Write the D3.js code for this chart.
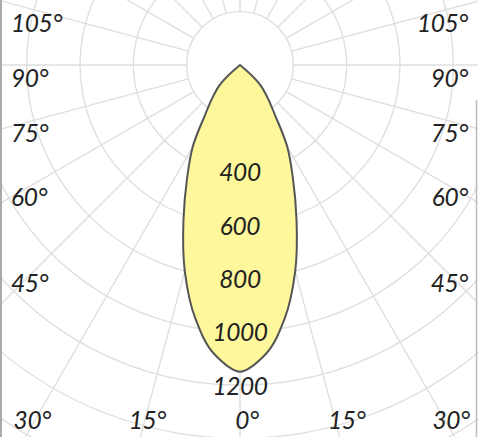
<!DOCTYPE html>
<html>
<head>
<meta charset="utf-8">
<script src="https://cdn.jsdelivr.net/npm/d3@7"></script>
<style>
  body { margin: 0; background: #fff; }
  text { font-family: Lato, 'Open Sans', sans-serif; font-style: italic; fill: #222; letter-spacing: -0.4px; }
</style>
</head>
<body>
<script>
// luminous intensity (cd) per angle from nadir, one half of a symmetric beam
var angles = [0, 5, 10, 15, 20, 25, 30, 35, 40, 45, 50];
var intensity = [1150, 1090, 965, 800, 620, 470, 355, 228, 162, 112, 0];

var ringValues = [200, 400, 600, 800, 1000, 1200, 1400, 1600, 1800];
var ringLabels = [400, 600, 800, 1000, 1200];
var sideAngles = [105, 90, 75, 60, 45];
var bottomAngles = [-30, -15, 0, 15, 30];

var w = 478;
var h = 437;
var cx = 240;
var cy = 65;
var rad = Math.PI / 180;

var svg = d3.select('body')
            .append('svg')
            .attr('width', w)
            .attr('height', h);

var rScale = d3.scaleLinear()
               .domain([0, 1200])
               .range([0, 320]);

var g = svg.append('g')
           .attr('transform', 'translate(' + cx + ',' + cy + ')');

// rays every 15 degrees, starting on the first ring
var rays = d3.range(0, 360, 15);
g.selectAll('line.ray')
 .data(rays)
 .enter()
 .append('line')
 .attr('class', 'ray')
 .attr('x1', function(d) { return rScale(200) * Math.sin(d * rad); })
 .attr('y1', function(d) { return rScale(200) * Math.cos(d * rad); })
 .attr('x2', function(d) { return 600 * Math.sin(d * rad); })
 .attr('y2', function(d) { return 600 * Math.cos(d * rad); })
 .attr('stroke', '#dedede')
 .attr('stroke-width', 1.3);

g.selectAll('circle.ring')
 .data(ringValues)
 .enter()
 .append('circle')
 .attr('class', 'ring')
 .attr('r', function(d) { return rScale(d); })
 .attr('fill', 'none')
 .attr('stroke', '#dedede')
 .attr('stroke-width', 1.3);

// beam outline: mirror the half curve
var pts = [];
for (var i = angles.length - 1; i > 0; i--) {
    pts.push([-angles[i], intensity[i]]);
}
for (var j = 0; j < angles.length; j++) {
    pts.push([angles[j], intensity[j]]);
}

var beam = d3.lineRadial()
             .angle(function(d) { return Math.PI - d[0] * rad; })
             .radius(function(d) { return rScale(d[1]); })
             .curve(d3.curveCatmullRom.alpha(1));

g.append('path')
 .datum(pts)
 .attr('d', function(d) { return beam(d) + 'Z'; })
 .attr('fill', '#fff79b')
 .attr('stroke', '#555')
 .attr('stroke-width', 2)
 .attr('stroke-linejoin', 'round');

g.selectAll('text.val')
 .data(ringLabels)
 .enter()
 .append('text')
 .attr('class', 'val')
 .attr('x', 0)
 .attr('y', function(d) { return rScale(d); })
 .attr('text-anchor', 'middle')
 .attr('dominant-baseline', 'central')
 .attr('font-size', 24.5)
 .text(function(d) { return d; });

// angle labels on the sides, where each ray passes x = 35 / x = 445
var sideDist = 205;
var drop = 12.7;
[-1, 1].forEach(function(side) {
    svg.selectAll('text.side' + side)
       .data(sideAngles)
       .enter()
       .append('text')
       .attr('x', side < 0 ? 11 : 468)
       .attr('y', function(d) {
            return cy + sideDist * Math.cos(d * rad) / Math.sin(d * rad) + drop;
       })
       .attr('text-anchor', side < 0 ? 'start' : 'end')
       .attr('dominant-baseline', 'central')
       .attr('font-size', 24.5)
       .text(function(d) { return d + '°'; });
});

// angle labels along the bottom, where each ray leaves the picture
var bottomText = svg.selectAll('text.bottom')
   .data(bottomAngles)
   .enter()
   .append('text')
   .attr('x', function(d) { return cx + (h - cy) * Math.tan(d * rad) + 7; })
   .attr('y', 419)
   .attr('text-anchor', 'middle')
   .attr('dominant-baseline', 'central')
   .attr('font-size', 24.5)
   .text(function(d) { return Math.abs(d) + '°'; });

bottomText.each(function() {
    var b = this.getBBox();
    var x = +d3.select(this).attr('x');
    if (b.x < 13) d3.select(this).attr('x', x + 13 - b.x);
    if (b.x + b.width > 470) d3.select(this).attr('x', x - (b.x + b.width - 470));
});

// frame edges
svg.append('line')
   .attr('x1', 1).attr('x2', 1)
   .attr('y1', 0).attr('y2', h)
   .attr('stroke', '#aaa')
   .attr('stroke-width', 2);
svg.append('line')
   .attr('x1', 476.5).attr('x2', 476.5)
   .attr('y1', 100).attr('y2', h)
   .attr('stroke', '#bbb')
   .attr('stroke-width', 1.5);
</script>
</body>
</html>
